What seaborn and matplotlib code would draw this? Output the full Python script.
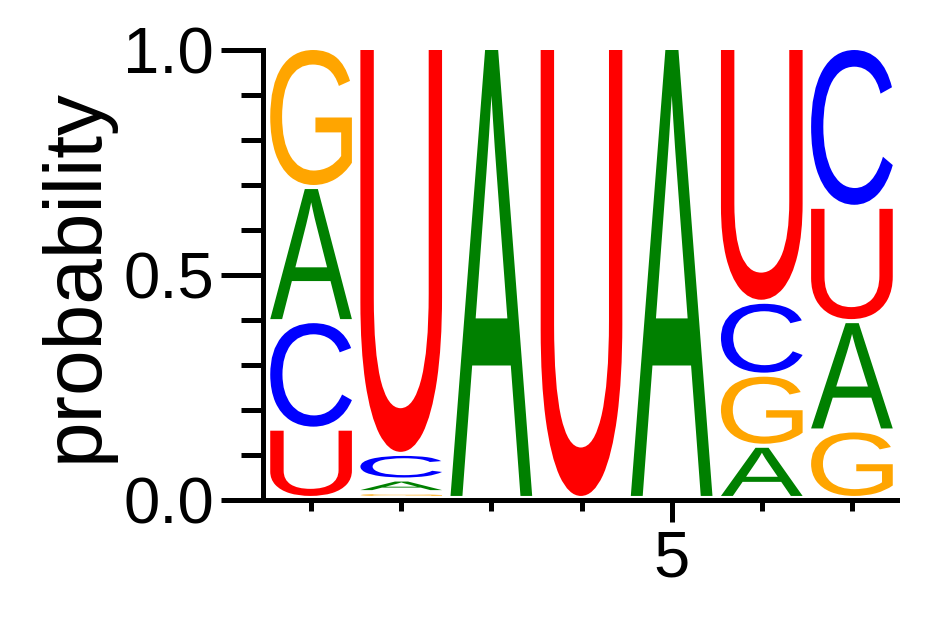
import numpy as np
import pandas as pd
import matplotlib
matplotlib.use("Agg")
import matplotlib.pyplot as plt
import seaborn as sns
from matplotlib.textpath import TextPath
from matplotlib.patches import PathPatch
from matplotlib.font_manager import FontProperties
from matplotlib.transforms import Affine2D
from matplotlib.ticker import MultipleLocator

# ---- data ----
positions = [1, 2, 3, 4, 5, 6, 7]
prob_A = [0.298, 0.028, 1.0, 0.0, 1.0, 0.116, 0.243]
prob_C = [0.239, 0.057, 0.0, 0.0, 0.0, 0.162, 0.353]
prob_G = [0.309, 0.013, 0.0, 0.0, 0.0, 0.158, 0.150]
prob_U = [0.154, 0.902, 0.0, 1.0, 0.0, 0.564, 0.254]
letters = ["A", "C", "G", "U"]
colors = {"A": "#008000", "C": "#0000FF", "G": "#FFA500", "U": "#FF0000"}
y_ticks = [0.0, 0.5, 1.0]
y_tick_labels = ["0.0", "0.5", "1.0"]
x_major_ticks = [5]
x_tick_labels = ["5"]
ylabel = "probability"

sns.set_theme(style="ticks")
plt.rcParams["font.family"] = ["Liberation Sans", "DejaVu Sans"]

df = pd.DataFrame({"A": prob_A, "C": prob_C, "G": prob_G, "U": prob_U}, index=positions)

fig = plt.figure(figsize=(9.42, 6.17), dpi=100)
fig.patch.set_facecolor("white")
ax = fig.add_axes([266 / 942, 1 - 500 / 617, (897 - 266) / 942, 450 / 617])
ax.set_facecolor("white")

prop = FontProperties(family="Liberation Sans")
glyph_w = 0.906
gap = 0.009
for pos, row in df.iterrows():
    order = sorted([(row[l], l) for l in letters if row[l] > 0])
    base = 0.0
    for p, l in order:
        tp = TextPath((0, 0), l, size=1, prop=prop)
        ext = tp.get_extents()
        h = max(p - gap, p * 0.3)
        tr = (Affine2D()
              .translate(-ext.x0, -ext.y0)
              .scale(glyph_w / ext.width, h / ext.height)
              .translate(pos - glyph_w / 2, base + p - h))
        patch = PathPatch(tr.transform_path(tp), facecolor=colors[l],
                          edgecolor="none", lw=0)
        ax.add_patch(patch)
        base += p

ax.set_xlim(0.5, 7.5)
ax.set_ylim(0, 1)
sns.despine(ax=ax)
ax.grid(False)
for s in ["left", "bottom"]:
    ax.spines[s].set_linewidth(3.6)
    ax.spines[s].set_color("black")
ax.spines["left"].set_position(("outward", 2.5))

ax.set_yticks(y_ticks)
ax.set_yticklabels(y_tick_labels)
ax.yaxis.set_minor_locator(MultipleLocator(0.1))
ax.set_xticks(x_major_ticks)
ax.set_xticklabels(x_tick_labels)
ax.xaxis.set_minor_locator(MultipleLocator(1))
ax.tick_params(axis="y", which="major", length=30, width=3.6, labelsize=47,
               pad=5, direction="out", color="black", labelcolor="black")
ax.tick_params(axis="y", which="minor", length=16, width=3.6, direction="out",
               color="black", left=True)
ax.tick_params(axis="x", which="major", length=16, width=3.6, labelsize=47,
               pad=5, direction="out", color="black", labelcolor="black")
ax.tick_params(axis="x", which="minor", length=8, width=3.6, direction="out",
               color="black", bottom=True)
ax.set_ylabel(ylabel, fontsize=59, labelpad=7, color="black")

fig.savefig("out.png", dpi=100, facecolor="white")
